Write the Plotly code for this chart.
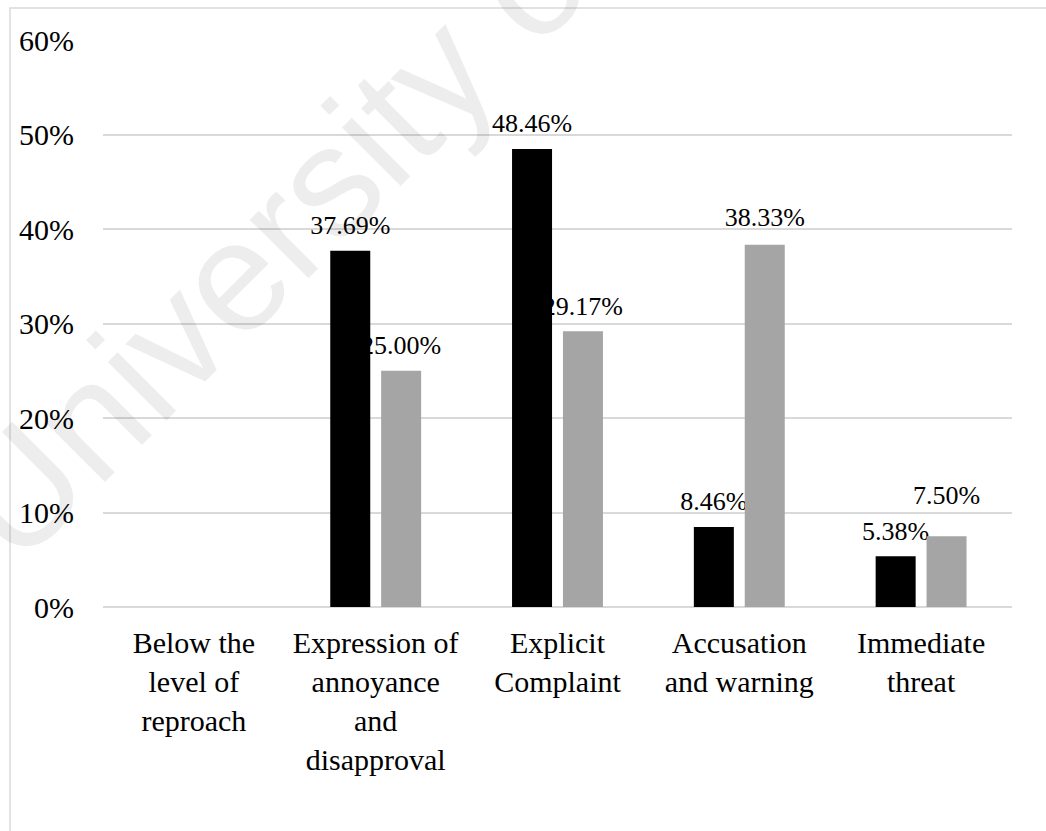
import plotly.graph_objects as go

# ---- data -------------------------------------------------------------
categories = [
    "Below the<br>level of<br>reproach",
    "Expression of<br>annoyance<br>and<br>disapproval",
    "Explicit<br>Complaint",
    "Accusation<br>and warning",
    "Immediate<br>threat",
]
series_black = [0.00, 37.69, 48.46, 8.46, 5.38]
series_gray = [0.00, 25.00, 29.17, 38.33, 7.50]
y_tick_values = [0, 10, 20, 30, 40, 50, 60]
y_tick_labels = ["0%", "10%", "20%", "30%", "40%", "50%", "60%"]

# ---- styling ----------------------------------------------------------
FONT = "Liberation Serif, Times New Roman, Times, DejaVu Serif, serif"
BLACK = "#000000"
GRAY = "#a5a5a5"
GRID = "#d9d9d9"
BAR_W = 0.22
OFF_BLACK = -0.25
OFF_GRAY = 0.03

# vertical lift (axis units) of each value label above its bar
lift_black = [0.8, 0.8, 0.8, 0.8, 0.8]
lift_gray = [0.8, 0.8, 0.8, 1.0, 2.5]

W, H = 1046, 831
ML, MR, MT, MB = 103, 34, 40, 224
plot_w = W - ML - MR
plot_h = H - MT - MB


def px_to_paper_x(px):
    return (px - ML) / plot_w


def px_to_paper_y(py):
    return (H - MB - py) / plot_h


def fmt(values):
    return [f"{v:.2f}%" if v > 0 else "" for v in values]


fig = go.Figure()

# value labels: carried by transparent bars sitting on top of each bar,
# drawn first so that the solid bars stack over them
for vals, lift, off in ((series_black, lift_black, OFF_BLACK),
                        (series_gray, lift_gray, OFF_GRAY)):
    fig.add_trace(go.Bar(
        x=categories, y=lift, base=vals,
        width=BAR_W, offset=off,
        marker=dict(color="rgba(0,0,0,0)", line=dict(width=0)),
        text=fmt(vals), textposition="outside", textangle=0,
        constraintext="none", cliponaxis=False,
        textfont=dict(family=FONT, size=26, color=BLACK),
        hoverinfo="skip", showlegend=False,
    ))

fig.add_trace(go.Bar(
    name="Series 1", x=categories, y=series_black,
    width=BAR_W, offset=OFF_BLACK,
    marker=dict(color=BLACK, line=dict(width=0)),
    showlegend=False,
))
fig.add_trace(go.Bar(
    name="Series 2", x=categories, y=series_gray,
    width=BAR_W, offset=OFF_GRAY,
    marker=dict(color=GRAY, line=dict(width=0)),
    showlegend=False,
))

# chart-area frame
fig.add_shape(
    type="rect", xref="paper", yref="paper", layer="below",
    x0=px_to_paper_x(10), x1=px_to_paper_x(W + 40),
    y0=px_to_paper_y(H + 40), y1=px_to_paper_y(8),
    line=dict(color=GRID, width=1.5), fillcolor="rgba(0,0,0,0)",
)

# repository watermark
fig.add_annotation(
    text="University of Malaya", xref="paper", yref="paper",
    x=px_to_paper_x(478), y=px_to_paper_y(31),
    xanchor="center", yanchor="middle", showarrow=False, textangle=-45,
    font=dict(family="Liberation Sans, Arial, sans-serif", size=157,
              color="rgba(0,0,0,0.07)"),
)

fig.update_layout(
    width=W, height=H,
    margin=dict(l=ML, r=MR, t=MT, b=MB, pad=0),
    barmode="overlay",
    paper_bgcolor="white", plot_bgcolor="white",
    font=dict(family=FONT, size=30, color=BLACK),
    showlegend=False,
    xaxis=dict(
        type="category", showgrid=False, showline=False, ticks="",
        tickfont=dict(family=FONT, size=30, color=BLACK),
        ticklabelstandoff=15,
    ),
    yaxis=dict(
        range=[0, 60], tickmode="array",
        tickvals=y_tick_values, ticktext=y_tick_labels,
        showgrid=True, gridcolor=GRID, gridwidth=1.5,
        zeroline=True, zerolinecolor=GRID, zerolinewidth=1.5,
        showline=False, ticks="",
        tickfont=dict(family=FONT, size=30, color=BLACK),
        ticklabelstandoff=28,
    ),
)

fig.write_html("out.html")
